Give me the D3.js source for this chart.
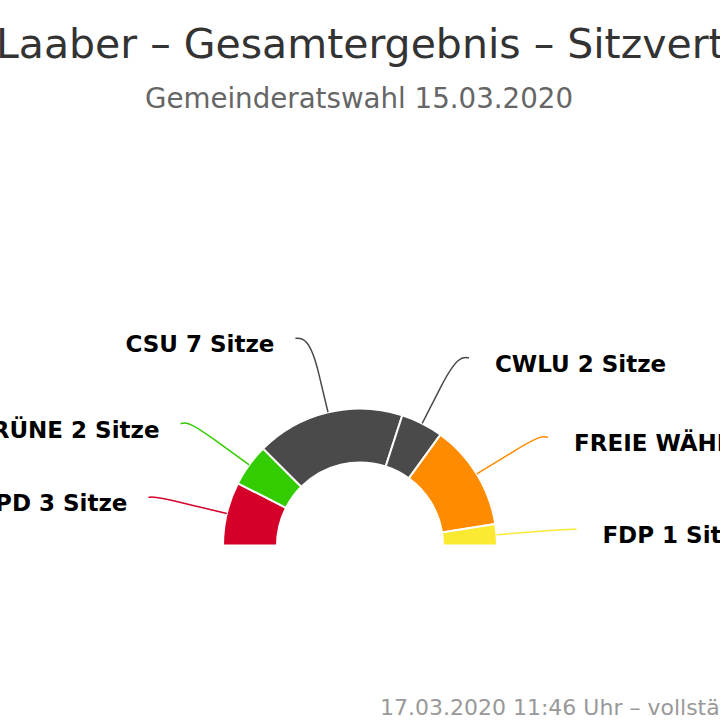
<!DOCTYPE html>
<html>
<head>
<meta charset="utf-8">
<script src="https://cdn.jsdelivr.net/npm/d3@7"></script>
<style>
  html, body { margin: 0; padding: 0; background: #fff; overflow: hidden; }
  svg { display: block; font-family: "DejaVu Sans", sans-serif; }
</style>
</head>
<body>
<div id="chart"></div>
<script>
const width = 720;
const height = 720;

// Sitzverteilung
const parties = ["SPD", "GRÜNE", "CSU", "CWLU", "FREIE WÄHLER", "FDP"];
const seats = [3, 2, 7, 2, 5, 1];
const colors = ["#d40029", "#33cc00", "#4a4a4a", "#4a4a4a", "#ff8c00", "#fbe932"];

const titleText = "Laaber – Gesamtergebnis – Sitzverteilung";
const subtitleText = "Gemeinderatswahl 15.03.2020";
const creditText = "17.03.2020 11:46 Uhr – vollständig ausgezählt";

const center = { x: 360, y: 545.5 };
const outerRadius = 137;
const innerRadius = 83;
const labelRadius = 217;
const breakRadius = 177;

const data = parties.map((p, i) => ({ name: p, seats: seats[i], color: colors[i] }));

const svg = d3
  .select("#chart")
  .append("svg")
  .attr("width", width)
  .attr("height", height);

// Title
svg
  .append("text")
  .attr("x", -4)
  .attr("y", 57.5)
  .style("font-size", "41px")
  .style("fill", "#333")
  .text(titleText);

svg
  .append("text")
  .attr("x", 359)
  .attr("y", 108)
  .attr("text-anchor", "middle")
  .style("font-size", "27.7px")
  .style("fill", "#666")
  .text(subtitleText);

// Halbkreis
const pie = d3
  .pie()
  .sort(null)
  .value((d) => d.seats)
  .startAngle(-Math.PI / 2)
  .endAngle(Math.PI / 2);

const arcs = pie(data);

const arc = d3.arc().innerRadius(innerRadius).outerRadius(outerRadius);

const g = svg.append("g").attr("transform", `translate(${center.x},${center.y})`);

g.selectAll(".slice")
  .data(arcs)
  .enter()
  .append("path")
  .attr("class", "slice")
  .attr("d", arc)
  .attr("fill", (d) => d.data.color)
  .attr("stroke", "#fff")
  .attr("stroke-width", 2)
  .attr("stroke-linejoin", "round");

// polar helper, angle in d3 convention (0 = top, clockwise)
function polar(r, a) {
  return [r * Math.sin(a), -r * Math.cos(a)];
}

arcs.forEach((d) => {
  const mid = (d.startAngle + d.endAngle) / 2;
  const side = mid < 0 ? -1 : 1;
  // angle from the horizontal, pulled down slightly like the original layout
  const fromHoriz = (Math.PI / 2 - Math.abs(mid)) * 0.95;
  const labelAngle = side * (Math.PI / 2 - fromHoriz);

  const [lx, ly] = polar(labelRadius, labelAngle);
  const [bx, by] = polar(breakRadius, mid);
  const [tx, ty] = polar(outerRadius, mid);

  const path = d3.path();
  path.moveTo(lx, ly);
  path.bezierCurveTo(lx - side * 5, ly, 2 * bx - tx, 2 * by - ty, bx, by);
  path.lineTo(tx, ty);

  g.append("path")
    .attr("d", path.toString())
    .attr("fill", "none")
    .attr("stroke", d.data.color)
    .attr("stroke-width", 1.5);

  const seatWord = d.data.seats === 1 ? "Sitz" : "Sitze";

  g.append("text")
    .attr("x", side < 0 ? lx - 21 : lx + 26)
    .attr("y", ly + 14)
    .attr("text-anchor", side < 0 ? "end" : "start")
    .style("font-size", "23px")
    .style("font-weight", "bold")
    .style("fill", "#000")
    .text(`${d.data.name} ${d.data.seats} ${seatWord}`);
});

// Credits
svg
  .append("text")
  .attr("x", 380)
  .attr("y", 715)
  .style("font-size", "22px")
  .style("fill", "#999")
  .text(creditText);
</script>
</body>
</html>
